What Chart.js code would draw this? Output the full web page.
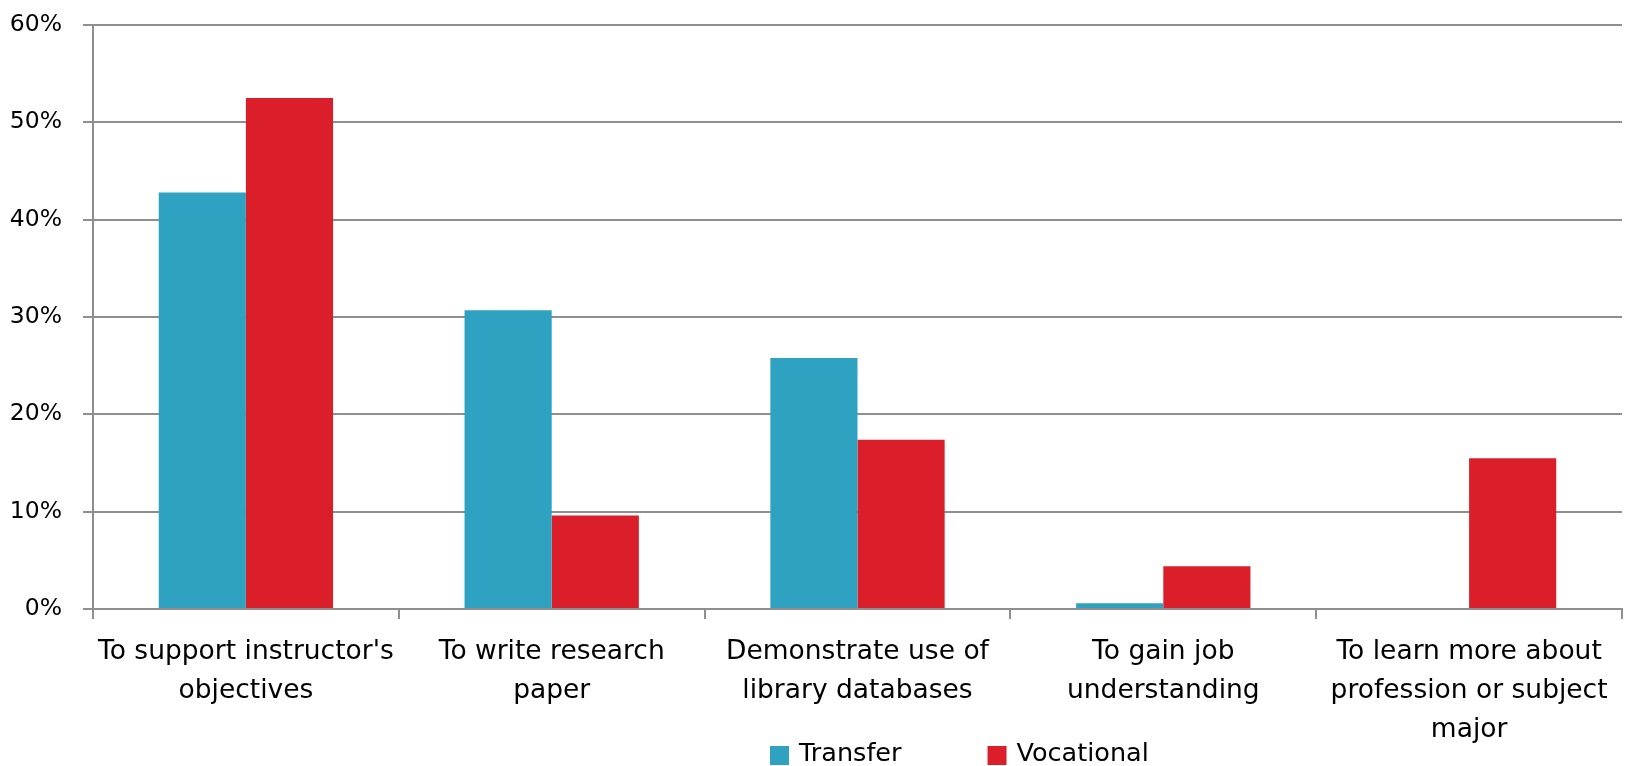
<!DOCTYPE html>
<html>
<head>
<meta charset="utf-8">
<script src="https://cdn.jsdelivr.net/npm/chart.js@4/dist/chart.umd.min.js"></script>
<style>
  html, body { margin: 0; padding: 0; background: #ffffff; }
  #wrap { width: 1632px; height: 766px; position: relative; }
</style>
</head>
<body>
<div id="wrap"><canvas id="c" width="1632" height="766"></canvas></div>
<script>
const categories = [
  ["To support instructor's", "objectives"],
  ["To write research", "paper"],
  ["Demonstrate use of", "library databases"],
  ["To gain job", "understanding"],
  ["To learn more about", "profession or subject", "major"]
];
const seriesNames = ["Transfer", "Vocational"];
const transferValues = [42.8, 30.7, 25.8, 0.6, 0];
const vocationalValues = [52.5, 9.6, 17.4, 4.4, 15.5];
const yTicks = [0, 10, 20, 30, 40, 50, 60];
const seriesColors = ["#2ea2c0", "#da1f2a"];

const FONT = "'DejaVu Sans', sans-serif";
const FS = 26.5;
const FSY = 23.5;
const GRID = "#8f8f8f";

const legendPlugin = {
  id: 'customLegend',
  afterDraw(chart) {
    const ctx = chart.ctx;
    ctx.save();
    ctx.font = "25.5px " + FONT;
    ctx.textBaseline = 'alphabetic';
    ctx.textAlign = 'left';
    let x = 770;
    const boxTop = 746, box = 19, baseline = 761;
    chart.data.datasets.forEach((ds, i) => {
      ctx.fillStyle = ds.backgroundColor;
      ctx.fillRect(x, boxTop, box, box);
      ctx.fillStyle = '#000000';
      ctx.fillText(ds.label, x + box + 10, baseline);
      x += box + 10 + ctx.measureText(ds.label).width + 86;
    });
    ctx.restore();
  }
};

new Chart(document.getElementById('c'), {
  type: 'bar',
  data: {
    labels: categories,
    datasets: [
      { label: seriesNames[0], data: transferValues, backgroundColor: seriesColors[0], borderWidth: 0 },
      { label: seriesNames[1], data: vocationalValues, backgroundColor: seriesColors[1], borderWidth: 0 }
    ]
  },
  options: {
    responsive: false,
    animation: false,
    devicePixelRatio: 1,
    layout: { padding: { top: 25, right: 10, left: 0, bottom: 0 } },
    plugins: { legend: { display: false }, tooltip: { enabled: false } },
    datasets: { bar: { categoryPercentage: 0.57, barPercentage: 1.0 } },
    scales: {
      x: {
        offset: true,
        grid: { offset: true, drawOnChartArea: false, drawTicks: true, tickLength: 10, color: GRID, lineWidth: 2 },
        border: { display: true, color: GRID, width: 2 },
        ticks: { font: { family: FONT, size: FS, lineHeight: 1.47 }, color: '#000000', padding: 14, maxRotation: 0, autoSkip: false },
        afterFit(s) { s.height = 157; s.paddingLeft = 0; s.paddingRight = 0; }
      },
      y: {
        min: 0, max: 60,
        afterBuildTicks(s) { s.ticks = yTicks.map(v => ({ value: v })); },
        grid: { drawTicks: true, tickLength: 10, color: GRID, lineWidth: 2 },
        border: { display: true, color: GRID, width: 2 },
        ticks: { font: { family: FONT, size: FSY }, color: '#000000', padding: 21, callback: v => v + '%' },
        afterFit(s) { s.width = 93; s.paddingTop = 0; s.paddingBottom = 0; }
      }
    }
  },
  plugins: [legendPlugin]
});
</script>
</body>
</html>
